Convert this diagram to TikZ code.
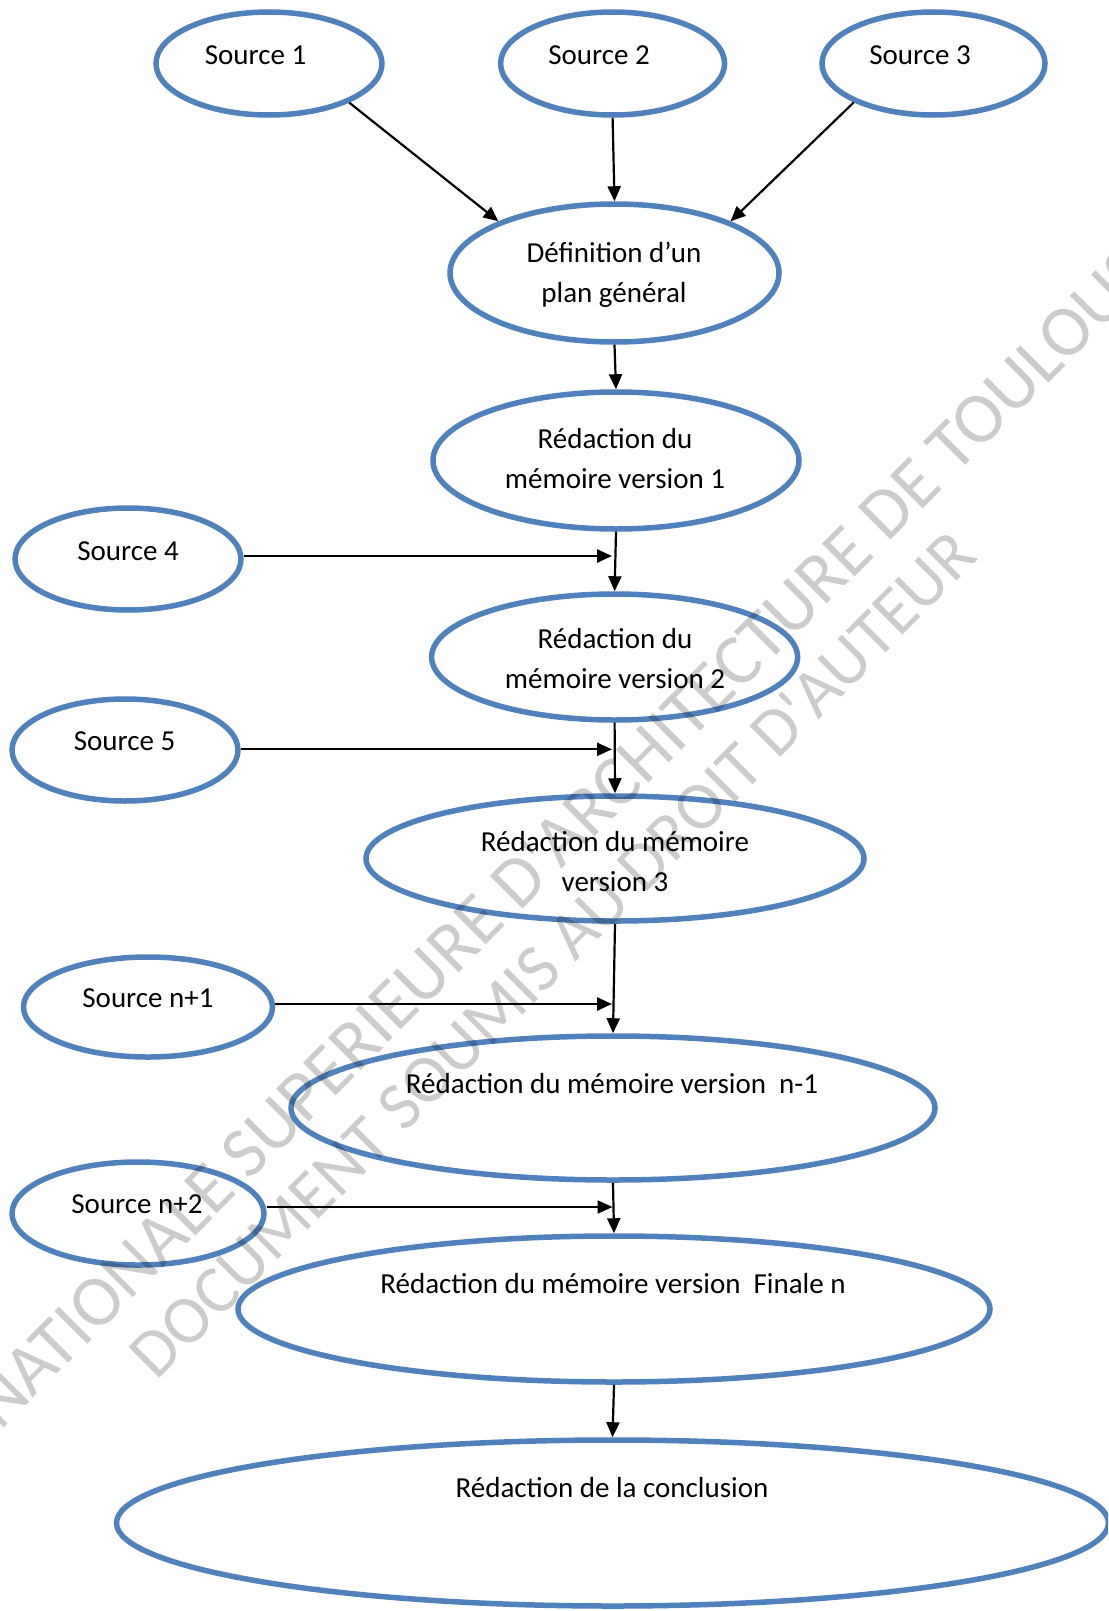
\documentclass[tikz,border=0pt]{standalone}
\usepackage{fontspec}
\setmainfont{Carlito}
\newfontfamily\wmfont{Carlito}[Ligatures=TeXOff]
\usetikzlibrary{shapes.geometric,arrows.meta}
\definecolor{ovalblue}{HTML}{4F81BD}
\tikzset{
  oval/.style={ellipse, draw=ovalblue, line width=5.5pt, inner sep=0pt},
  lbl/.style={font=\fontsize{29}{40}\selectfont, align=center, anchor=base, inner sep=0pt},
  arr/.style={line width=2.2pt, -{Triangle[length=15pt,width=13pt]}},
  wm/.style={font=\wmfont\fontsize{68}{68}\selectfont, text=black, text opacity=0.2, rotate=45, inner sep=0pt},
}
\begin{document}
\begin{tikzpicture}[x=1pt,y=-1pt]
\useasboundingbox (0,0) rectangle (1108,1611);
\clip (0,0) rectangle (1108,1611);
\fill[white] (0,0) rectangle (1108,1611);

% ellipses
\node[oval, minimum width=226pt, minimum height=103pt] (s1) at (269,63.5) {};
\node[oval, minimum width=224pt, minimum height=103pt] (s2) at (612.6,63.5) {};
\node[oval, minimum width=223pt, minimum height=103pt] (s3) at (933.5,63.5) {};
\node[oval, minimum width=329pt, minimum height=138pt] (def) at (614.5,273) {};
\node[oval, minimum width=366pt, minimum height=137pt] (v1) at (616,460.5) {};
\node[oval, minimum width=226pt, minimum height=102pt] (s4) at (128,559) {};
\node[oval, minimum width=366pt, minimum height=126pt] (v2) at (614.6,657) {};
\node[oval, minimum width=226pt, minimum height=102pt] (s5) at (125,750) {};
\node[oval, minimum width=498pt, minimum height=125pt] (v3) at (615,858.5) {};
\node[oval, minimum width=249pt, minimum height=100pt] (sn1) at (148,1007) {};
\node[oval, minimum width=644pt, minimum height=144pt] (vn1) at (613,1108) {};
\node[oval, minimum width=252pt, minimum height=103pt] (sn2) at (138,1213.5) {};
\node[oval, minimum width=752pt, minimum height=146pt] (vfin) at (614,1309) {};
\node[oval, minimum width=992pt, minimum height=166pt] (concl) at (612.5,1523) {};

% labels (multi-line nodes: base = baseline of the last line)
\node[lbl] (t1) at (255.5,65) {Source 1};
\node[lbl] (t2) at (599,65) {Source 2};
\node[lbl] (t3) at (920,65) {Source 3};
\node[lbl] (tdef) at (614,302) {Définition d’un\\plan général};
\node[lbl] (tv1) at (615,488) {Rédaction du\\mémoire version 1};
\node[lbl] (t4) at (128,560) {Source 4};
\node[lbl] (tv2) at (615,688) {Rédaction du\\mémoire version 2};
\node[lbl] (t5) at (124.5,750) {Source 5};
\node[lbl] (tv3) at (615,891) {Rédaction du mémoire\\version 3};
\node[lbl] (tn1) at (148,1007) {Source n+1};
\node[lbl] (tvn1) at (612,1093) {Rédaction du mémoire version\ \ n-1};
\node[lbl] (tn2) at (137,1213) {Source n+2};
\node[lbl] (tvfin) at (613,1293) {Rédaction du mémoire version\ \ Finale n};
\node[lbl] (tconcl) at (612,1497) {Rédaction de la conclusion};

% junction points
\coordinate (j1) at (612,556);
\coordinate (j2) at (612,749.3);
\coordinate (j3) at (612,1004);
\coordinate (j4) at (612.5,1207);

% connectors
\draw[arr] (s1.-26.6) -- (def.156.1);
\draw[arr] (s2.south) -- (def.north);
\draw[arr] (s3.206.1) -- (def.24.3);
\draw[arr] (def.south) -- (v1.north);
\draw[arr] (v1.south) -- (v2.north);
\draw[arr] (s4.east |- j1) -- (j1);
\draw[arr] (v2.south) -- (v3.north);
\draw[arr] (s5.east |- j2) -- (j2);
\draw[arr] (v3.south) -- (vn1.north);
\draw[arr] (sn1.east |- j3) -- (j3);
\draw[arr] (vn1.south) -- (vfin.north);
\draw[arr] (sn2.east |- j4) -- (j4);
\draw[arr] (vfin.south) -- (concl.north);

% watermark
\node[wm, anchor=base west] (wm2) at (156.7,1381.7) {DOCUMENT SOUMIS AU DROIT D'AUTEUR};
\node[wm, anchor=base, font=\wmfont\fontsize{72}{72}\selectfont] (wm1) at (519,912.5) {ECOLE NATIONALE SUPERIEURE D'ARCHITECTURE DE TOULOUSE};
\end{tikzpicture}
\end{document}
